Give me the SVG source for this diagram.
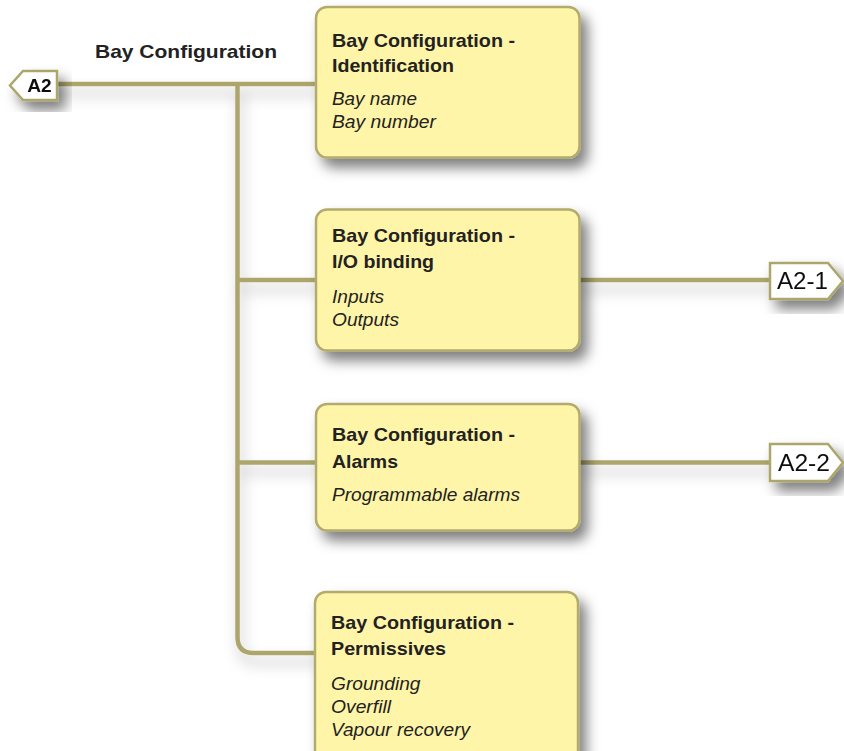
<svg xmlns="http://www.w3.org/2000/svg" width="844" height="751" viewBox="0 0 844 751">
  <defs>
    <filter id="shadow" x="-20%" y="-20%" width="150%" height="160%">
      <feDropShadow dx="7" dy="9" stdDeviation="6.5" flood-color="#000" flood-opacity="0.5"/>
    </filter>
    <filter id="lineShadow" x="-10%" y="-50%" width="120%" height="300%">
      <feDropShadow dx="3" dy="9" stdDeviation="7" flood-color="#000" flood-opacity="0.25"/>
    </filter>
    <style>
      .box { fill: #fff5a8; stroke: #b3ab6c; stroke-width: 2.5; }
      .wire { fill: none; stroke: #aca66c; stroke-width: 4.5; }
      .tag { fill: #ffffff; stroke: #aca66c; stroke-width: 2.5; }
      .title { font-family: "Liberation Sans", Arial, sans-serif; font-weight: bold; font-size: 19px; fill: #222; }
      .item { font-family: "Liberation Sans", Arial, sans-serif; font-style: italic; font-size: 18px; fill: #222; }
      .tagtxt { font-family: "Liberation Sans", Arial, sans-serif; font-size: 23px; fill: #111; }
    </style>
  </defs>

  <rect width="844" height="751" fill="#ffffff"/>

  <!-- section label -->
  <text class="title" x="95" y="57.5" font-size="20" textLength="182" lengthAdjust="spacingAndGlyphs">Bay Configuration</text>

  <!-- connectors -->
  <g id="connectors" filter="url(#lineShadow)">
    <path class="wire" d="M57 84 H316"/>
    <path class="wire" d="M237.5 84 V637 Q237.5 653 253.5 653 H316"/>
    <path class="wire" d="M237.5 280 H316"/>
    <path class="wire" d="M237.5 462.5 H316"/>
    <path class="wire" d="M580 280 H770"/>
    <path class="wire" d="M580 462.5 H770"/>
  </g>

  <!-- off-page reference A2 -->
  <g id="ref-a2" filter="url(#shadow)">
    <polygon class="tag" points="23,71 57,71 57,100 23,100 10,85.5"/>
    <text x="39.5" y="92" text-anchor="middle" font-family="Liberation Sans, Arial, sans-serif" font-weight="bold" font-size="18.5" fill="#111" textLength="24.5" lengthAdjust="spacingAndGlyphs">A2</text>
  </g>

  <!-- off-page reference A2-1 -->
  <g id="ref-a2-1" filter="url(#shadow)">
    <polygon class="tag" points="770,263 828,263 843,281 828,299 770,299"/>
    <text class="tagtxt" x="777" y="288.5" textLength="51" lengthAdjust="spacingAndGlyphs">A2-1</text>
  </g>

  <!-- off-page reference A2-2 -->
  <g id="ref-a2-2" filter="url(#shadow)">
    <polygon class="tag" points="770,444 828,444 843,462.5 828,481 770,481"/>
    <text class="tagtxt" x="778" y="471" textLength="52" lengthAdjust="spacingAndGlyphs">A2-2</text>
  </g>

  <!-- Identification -->
  <g id="node-identification">
    <rect class="box" x="316" y="7" width="263.5" height="150.5" rx="11" filter="url(#shadow)"/>
    <text class="title" x="332" y="46.5" textLength="183" lengthAdjust="spacingAndGlyphs">Bay Configuration -</text>
    <text class="title" x="332" y="72" textLength="122" lengthAdjust="spacingAndGlyphs">Identification</text>
    <text class="item" x="332" y="104.5" textLength="85" lengthAdjust="spacingAndGlyphs">Bay name</text>
    <text class="item" x="332" y="127.5" textLength="104" lengthAdjust="spacingAndGlyphs">Bay number</text>
  </g>

  <!-- I/O binding -->
  <g id="node-io-binding">
    <rect class="box" x="316" y="209.5" width="263.5" height="141" rx="11" filter="url(#shadow)"/>
    <text class="title" x="332" y="241.5" textLength="183" lengthAdjust="spacingAndGlyphs">Bay Configuration -</text>
    <text class="title" x="332" y="267.5" textLength="102" lengthAdjust="spacingAndGlyphs">I/O binding</text>
    <text class="item" x="332" y="302.5" textLength="52" lengthAdjust="spacingAndGlyphs">Inputs</text>
    <text class="item" x="332" y="325.5" textLength="67" lengthAdjust="spacingAndGlyphs">Outputs</text>
  </g>

  <!-- Alarms -->
  <g id="node-alarms">
    <rect class="box" x="316" y="404" width="263.5" height="126.5" rx="11" filter="url(#shadow)"/>
    <text class="title" x="332" y="441" textLength="183" lengthAdjust="spacingAndGlyphs">Bay Configuration -</text>
    <text class="title" x="332" y="468" textLength="66" lengthAdjust="spacingAndGlyphs">Alarms</text>
    <text class="item" x="332" y="500.5" textLength="188" lengthAdjust="spacingAndGlyphs">Programmable alarms</text>
  </g>

  <!-- Permissives -->
  <g id="node-permissives">
    <rect class="box" x="315" y="592" width="263" height="175" rx="11" filter="url(#shadow)"/>
    <text class="title" x="331" y="628.5" textLength="183" lengthAdjust="spacingAndGlyphs">Bay Configuration -</text>
    <text class="title" x="331" y="655" textLength="115" lengthAdjust="spacingAndGlyphs">Permissives</text>
    <text class="item" x="331" y="690" textLength="89.5" lengthAdjust="spacingAndGlyphs">Grounding</text>
    <text class="item" x="331" y="713" textLength="60" lengthAdjust="spacingAndGlyphs">Overfill</text>
    <text class="item" x="331" y="735.5" textLength="139" lengthAdjust="spacingAndGlyphs">Vapour recovery</text>
  </g>
</svg>
